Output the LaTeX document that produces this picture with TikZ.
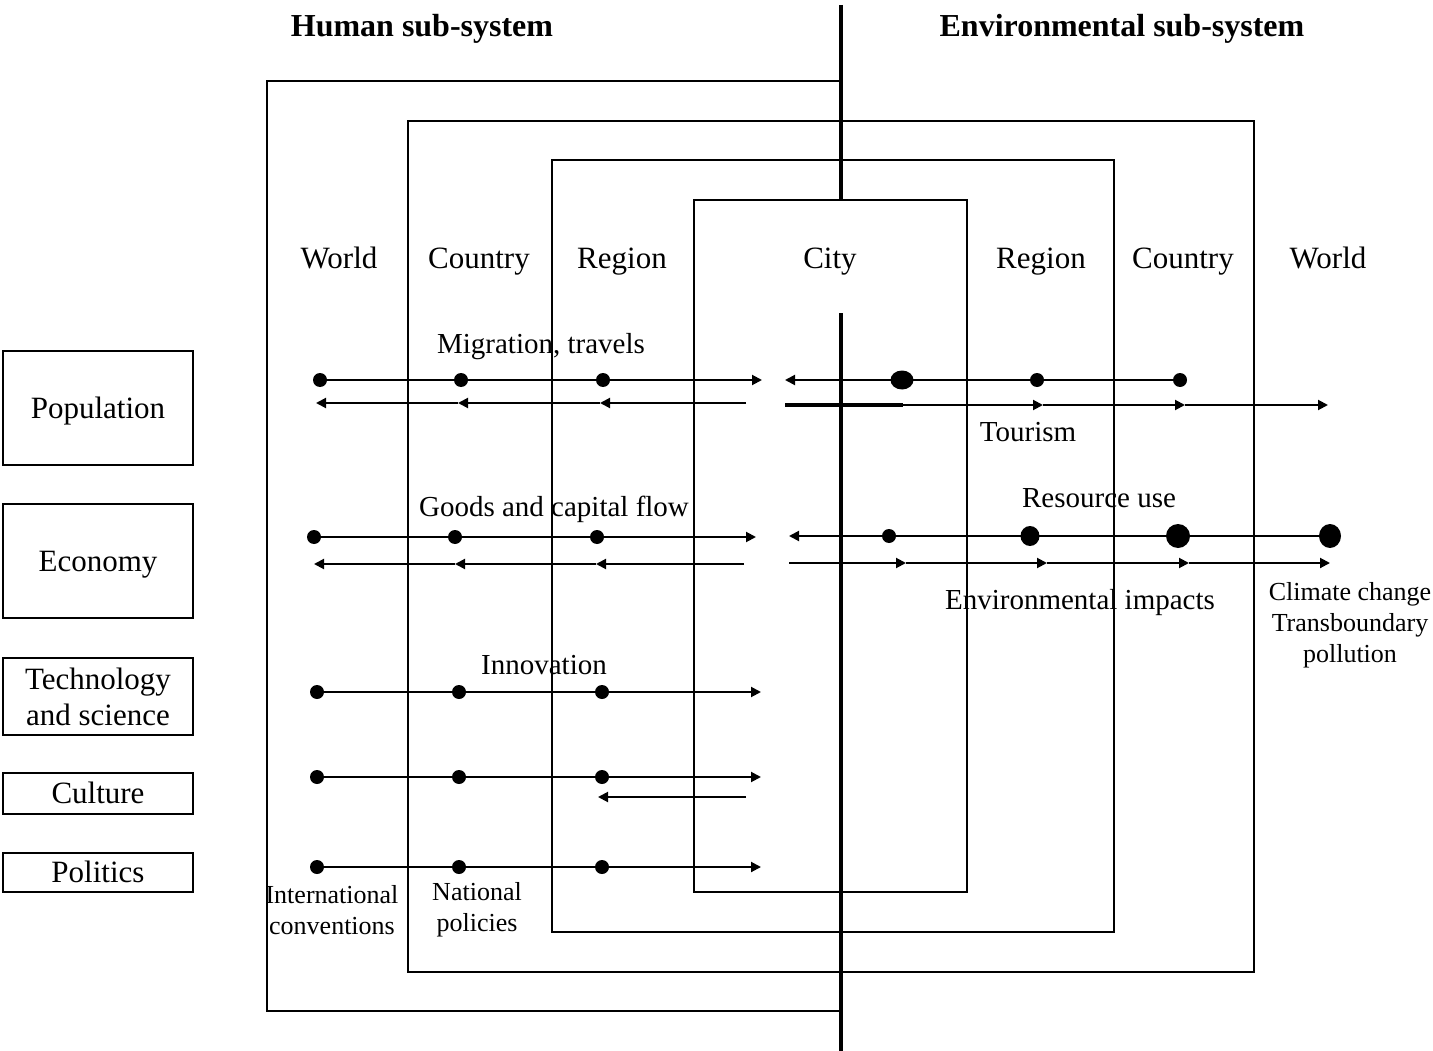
\documentclass[tikz,border=0pt]{standalone}
\usepackage{fontspec}
\setmainfont{Liberation Serif}
\usetikzlibrary{arrows.meta,shapes.geometric}
\begin{document}
\begin{tikzpicture}[x=1pt,y=-1pt,
  frame/.style={line width=2.2pt},
  axisline/.style={line width=4.5pt},
  flow/.style={line width=2pt},
  arr/.style={flow,-{Triangle[length=10pt,width=10pt]}},
  dot/.style={ellipse, fill=black, inner sep=0pt, minimum width=14pt, minimum height=14pt},
  lvl/.style={font=\fontsize{31}{36}\selectfont, inner sep=0pt, text height=20.8pt, text depth=0pt},
  flab/.style={font=\fontsize{29}{33}\selectfont, inner sep=0pt, text height=19.5pt, text depth=0pt},
  slab/.style={font=\fontsize{26}{31}\selectfont, inner sep=0pt, align=center},
  head/.style={font=\fontsize{32}{36}\selectfont\bfseries, inner sep=0pt, text height=21.5pt, text depth=0pt},
  cat/.style={draw, line width=2pt, minimum width=190pt, inner sep=0pt, font=\fontsize{31}{36}\selectfont, align=center},
  catone/.style={cat, text height=20.8pt, text depth=0pt}]
\useasboundingbox (0,0) rectangle (1433,1051);

% frames
\draw[frame] (841,81) -- (267,81) -- (267,1011) -- (841,1011);
\draw[frame] (408,121) rectangle (1254,972);
\draw[frame] (552,160) rectangle (1114,932);
\draw[frame] (694,200) rectangle (967,892);
\draw[axisline] (841,5) -- (841,200);
\draw[axisline] (841,313) -- (841,1051);

% headings
\node[head] (hhum) at (422,26) {Human sub-system};
\node[head] (henv) at (1122,26) {Environmental sub-system};

% level labels
\node[lvl] (lw1) at (339,258) {World};
\node[lvl] (lc1) at (479,258) {Country};
\node[lvl] (lr1) at (622,258) {Region};
\node[lvl] (lcity) at (830,258) {City};
\node[lvl] (lr2) at (1041,258) {Region};
\node[lvl] (lc2) at (1183,258) {Country};
\node[lvl] (lw2) at (1328,258) {World};

% category boxes
\node[catone, minimum height=114pt] (bpop) at (98,408) {Population};
\node[catone, minimum height=114pt] (beco) at (98,561) {Economy};
\node[cat, minimum height=77pt] (btec) at (98,696.5) {Technology\\and science};
\node[catone, minimum height=41pt] (bcul) at (98,793.5) {Culture};
\node[catone, minimum height=39pt] (bpol) at (98,872) {Politics};

% flow labels
\node[flab] (tmig) at (541,344) {Migration, travels};
\node[flab] (ttou) at (1028,432) {Tourism};
\node[flab] (tgoo) at (554,507) {Goods and capital flow};
\node[flab] (tres) at (1099,498) {Resource use};
\node[flab] (tenv) at (1080,600) {Environmental impacts};
\node[flab] (tinn) at (544,665) {Innovation};
\node[slab] (tint) at (332,910) {International\\conventions};
\node[slab] (tnat) at (477,910) {National\\policies};
\node[slab] (tcli) at (1350,625) {Climate change\\Transboundary\\pollution};

% ---- Row 1: population, left
\node[dot] (pa) at (320,380) {};
\node[dot] (pb) at (461,380) {};
\node[dot] (pc) at (603,380) {};
\coordinate (pe) at (762,380);
\draw[arr] (pa) -- (pe);
\coordinate (ql0) at (746,403);
\coordinate (ql1) at (600,403);
\coordinate (ql2) at (458,403);
\coordinate (ql3) at (316,403);
\draw[arr] (ql0) -- (ql1);
\draw[arr] (ql1) -- (ql2);
\draw[arr] (ql2) -- (ql3);

% ---- Row 1: population, right
\node[dot, minimum width=23pt, minimum height=19pt] (pr1) at (902,380) {};
\node[dot] (pr2) at (1037,380) {};
\node[dot] (pr3) at (1180,380) {};
\coordinate (pr0) at (785,380);
\draw[arr] (pr3) -- (pr0);
\coordinate (qr0) at (785,405);
\coordinate (qrt) at (903,405);
\coordinate (qr1) at (1043,405);
\coordinate (qr2) at (1185,405);
\coordinate (qr3) at (1328,405);
\draw[arr] (qr0) -- (qr1);
\draw[arr] (qr1) -- (qr2);
\draw[arr] (qr2) -- (qr3);
\draw[line width=3.5pt] (qr0) -- (qrt);

% ---- Row 2: economy, left
\node[dot] (ea) at (314,537) {};
\node[dot] (eb) at (455,537) {};
\node[dot] (ec) at (597,537) {};
\coordinate (ee) at (756,537);
\draw[arr] (ea) -- (ee);
\coordinate (fl0) at (744,564);
\coordinate (fl1) at (596,564);
\coordinate (fl2) at (455,564);
\coordinate (fl3) at (314,564);
\draw[arr] (fl0) -- (fl1);
\draw[arr] (fl1) -- (fl2);
\draw[arr] (fl2) -- (fl3);

% ---- Row 2: economy, right
\node[dot] (er1) at (889,536) {};
\node[dot, minimum width=19pt, minimum height=20pt] (er2) at (1030,536) {};
\node[dot, minimum width=24pt, minimum height=24pt] (er3) at (1178,536) {};
\node[dot, minimum width=22pt, minimum height=24pt] (er4) at (1330,536) {};
\coordinate (er0) at (789,536);
\draw[arr] (er4) -- (er0);
\coordinate (gr0) at (789,563);
\coordinate (gr1) at (906,563);
\coordinate (gr2) at (1047,563);
\coordinate (gr3) at (1189,563);
\coordinate (gr4) at (1330,563);
\draw[arr] (gr0) -- (gr1);
\draw[arr] (gr1) -- (gr2);
\draw[arr] (gr2) -- (gr3);
\draw[arr] (gr3) -- (gr4);

% ---- Row 3: technology
\node[dot] (ia) at (317,692) {};
\node[dot] (ib) at (459,692) {};
\node[dot] (ic) at (602,692) {};
\coordinate (ie) at (761,692);
\draw[arr] (ia) -- (ie);

% ---- Row 4: culture
\node[dot] (ca) at (317,777) {};
\node[dot] (cb) at (459,777) {};
\node[dot] (cc) at (602,777) {};
\coordinate (ce) at (761,777);
\draw[arr] (ca) -- (ce);
\coordinate (cr0) at (746,797);
\coordinate (cr1) at (598,797);
\draw[arr] (cr0) -- (cr1);

% ---- Row 5: politics
\node[dot] (la) at (317,867) {};
\node[dot] (lb) at (459,867) {};
\node[dot] (lc) at (602,867) {};
\coordinate (le) at (761,867);
\draw[arr] (la) -- (le);
\end{tikzpicture}
\end{document}
